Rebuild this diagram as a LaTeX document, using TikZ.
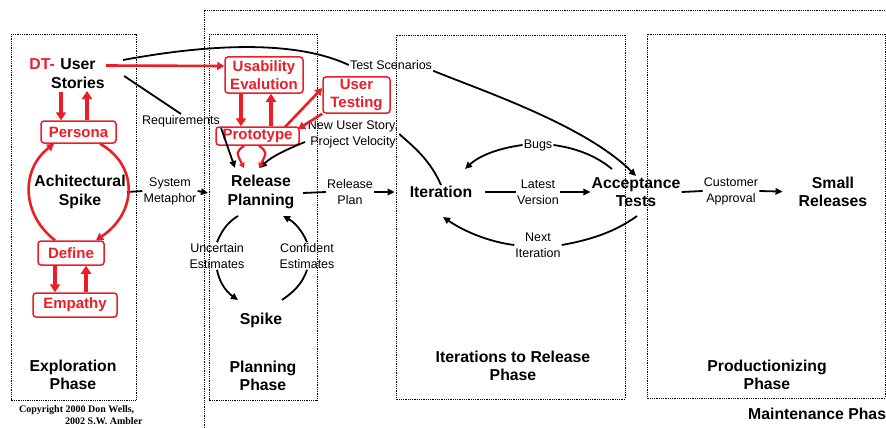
\documentclass[tikz,border=0pt]{standalone}
\usepackage{fontspec}
\setmainfont{Liberation Sans}
\newfontfamily\cpyfont{Liberation Serif}
\usetikzlibrary{arrows.meta,calc}
\definecolor{dtred}{RGB}{235,30,40}
\begin{document}
\begin{tikzpicture}[x=1pt,y=-1pt,
  phase/.style={draw, densely dotted, line width=0.8pt},
  lbl/.style={font=\bfseries\fontsize{15.8}{18.5}\selectfont, align=center, inner sep=1pt},
  sml/.style={font=\fontsize{12.5}{16}\selectfont, align=center, inner sep=1pt},
  rbox/.style={draw=dtred, line width=1.5pt, rounded corners=3pt, text=dtred, font=\bfseries\fontsize{15}{18}\selectfont, align=center, inner sep=0pt, fill=white},
  blk/.style={line width=1.8pt},
  barr/.style={line width=1.8pt, -{Triangle[length=7pt,width=6.5pt]}},
  rarr/.style={draw=dtred, line width=3.5pt, -{Triangle[length=8pt,width=10pt]}},
  rthin/.style={draw=dtred, line width=2.6pt, -{Triangle[length=7pt,width=8pt]}}]
\useasboundingbox (0,0) rectangle (886,428);
\fill[white] (0,0) rectangle (886,428);
% phase boxes
\draw[phase] (11,34) rectangle (136,400);
\draw[phase] (209,34) rectangle (317,400);
\draw[phase] (396,35) rectangle (625,399);
\draw[phase] (647,34) rectangle (885,398);
\draw[phase] (204,428) -- (204,10) -- (886,10);
% phase labels
\node[lbl] (explph) at (73,375) {Exploration\\Phase};
\node[lbl] (planph) at (263,376) {Planning\\Phase};
\node[lbl] (iterph) at (513,366) {Iterations to Release\\Phase};
\node[lbl] (prodph) at (767,375) {Productionizing\\Phase};
\node[lbl, anchor=west] (maint) at (747,414) {Maintenance Phas};
% copyright
\node[font=\cpyfont\bfseries\fontsize{10}{11}\selectfont, anchor=west, inner sep=0pt] (cp1) at (19,410) {Copyright 2000 Don Wells,};
\node[font=\cpyfont\bfseries\fontsize{10}{11}\selectfont, anchor=west, inner sep=0pt] (cp2) at (65,421) {2002 S.W. Ambler};
% main nodes
\node[lbl] (us) at (78,73.5) {User\\Stories};
\node[lbl, text=dtred, anchor=east] (dt) at (56,64) {DT-};
\node[rbox, minimum width=75pt, minimum height=22pt] (persona) at (78.5,132) {Persona};
\node[lbl] (arch) at (80,192) {Achitectural\\Spike};
\node[rbox, minimum width=66pt, minimum height=24pt] (define) at (71,253) {Define};
\node[rbox, minimum width=84pt, minimum height=24pt] (empathy) at (75,305) {Empathy};
\node[rbox, minimum width=78pt, minimum height=36pt] (usab) at (264,75) {Usability\\Evalution};
\node[rbox, minimum width=67pt, minimum height=36pt] (usert) at (356.5,95) {User\\Testing};
\node[rbox, minimum width=83pt, minimum height=18pt] (proto) at (257.5,136) {Prototype};
\node[lbl] (relplan) at (261,192) {Release\\Planning};
\node[lbl] (spike) at (261,320) {Spike};
\node[lbl] (iter) at (441,192) {Iteration};
\node[lbl] (accept) at (636,192) {Acceptance\\Tests};
\node[lbl] (small) at (833,192) {Small\\Releases};
% small labels
\node[sml] (req) at (181,121) {Requirements};
\node[sml] (sysmet) at (170,191) {System\\Metaphor};
\node[sml] (testsc) at (391,65) {Test Scenarios};
\node[sml] (nus) at (353,134) {New User Story,\\Project Velocity};
\node[sml] (rplan) at (350,192) {Release\\Plan};
\node[sml] (latest) at (538,192) {Latest\\Version};
\node[sml] (bugs) at (538,145) {Bugs};
\node[sml] (next) at (538,245) {Next\\Iteration};
\node[sml] (cust) at (731,191) {Customer\\Approval};
\node[sml] (uncert) at (217,256) {Uncertain\\Estimates};
\node[sml] (confid) at (307,256) {Confident\\Estimates};
% black connectors
\coordinate (tsA) at (123,60);
\draw[blk] (tsA) .. controls (220,42) and (300,42) .. (testsc.west);
\draw[barr] (testsc.south east) .. controls (480,90) and (585,125) .. (accept.north);
\draw[blk] (124,76) -- (req.north);
\draw[barr] (req.south east) -- (235,168);
\draw[blk] (arch.east) -- (sysmet.west);
\draw[barr] (sysmet.east) -- (208,193);
\draw[blk] (303,193) -- (rplan.west);
\draw[barr, shorten >=14pt] (rplan.east) -- (iter.west);
\draw[blk, shorten <=12pt] (iter.east) -- (latest.west);
\draw[barr] (latest.east) -- (accept.west);
\draw[blk] (accept.east) -- (cust.west);
\draw[barr, shorten >=15pt] (cust.east) -- (small.west);
\draw[blk] (612,169) .. controls (595,155) and (575,148) .. (bugs.east);
\draw[barr] (bugs.west) .. controls (500,148) and (480,155) .. (465,169);
\draw[blk] (637,216) .. controls (615,232) and (590,240) .. (next.east);
\draw[barr] (next.west) .. controls (490,242) and (465,232) .. (443,217);
\draw[blk] (iter.north) .. controls (430,160) and (415,148) .. (nus.east);
\draw[barr] (305,142) .. controls (290,148) and (272,156) .. (260,168);
\draw[blk] (238,216) .. controls (228,222) and (222,230) .. (uncert.north);
\draw[barr] (uncert.south) .. controls (220,285) and (228,293) .. (238,300);
\draw[blk] (282,300) .. controls (292,293) and (302,285) .. (confid.south);
\draw[barr] (confid.north) .. controls (302,230) and (294,222) .. (283,216);
% red connectors
\draw[rthin] ([yshift=8pt]us.east) -- ([yshift=9pt]usab.west);
\draw[rarr] (61,92) -- (persona.north -| 61,0);
\draw[rarr] (persona.north -| 87,0) -- (87,91);
\draw[rthin] (define.north -| 55,0) .. controls (22,215) and (20,170) .. (persona.south -| 54,0);
\draw[rthin] (persona.south -| 100,0) .. controls (138,165) and (138,212) .. (define.north -| 96,0);
\draw[rarr] (define.south -| 55,0) -- (empathy.north -| 55,0);
\draw[rarr] (empathy.north -| 86,0) -- (define.south -| 86,0);
\draw[rarr] (usab.south -| 241,0) -- (proto.north -| 241,0);
\draw[rarr] (proto.north -| 271,0) -- (usab.south -| 271,0);
\draw[rthin] (285,127) -- (usert.west |- 0,88);
\draw[rthin] (usert.south west) -- (298,129);
\draw[draw=dtred, line width=2.2pt, -{Triangle[length=5pt,width=6pt]}] (proto.south -| 244,0) .. controls (236,152) .. (244,168);
\draw[draw=dtred, line width=2.2pt, -{Triangle[length=5pt,width=6pt]}] (proto.south -| 259,0) .. controls (267,152) .. (259,168);
\end{tikzpicture}
\end{document}
